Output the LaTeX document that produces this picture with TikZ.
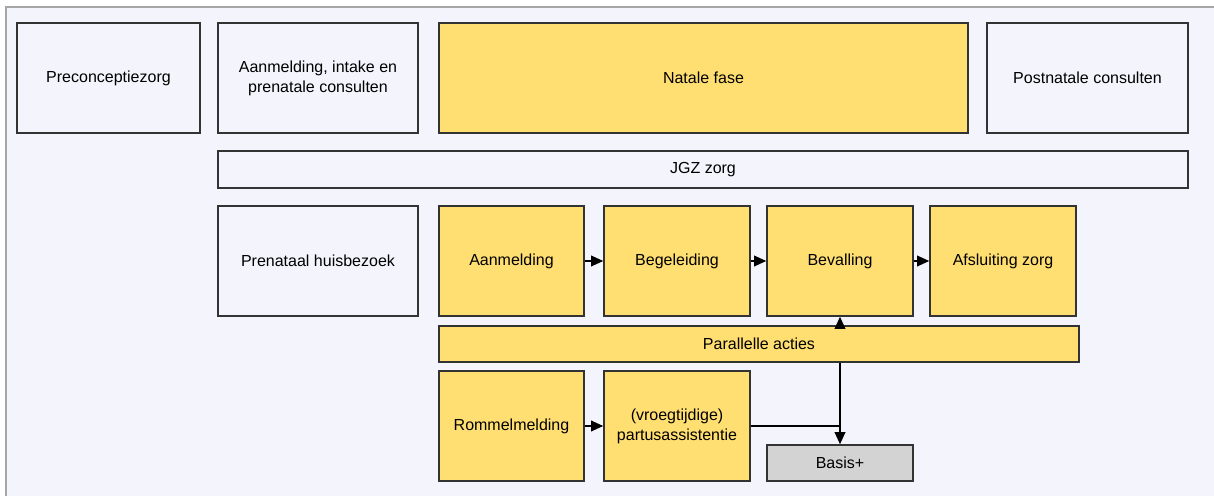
\documentclass[tikz,border=0pt]{standalone}
\usepackage{fontspec}
\setmainfont{Liberation Sans}
\usepackage{tikz}
\usetikzlibrary{arrows.meta}

\definecolor{achtergrond}{HTML}{F4F4FC}
\definecolor{geel}{HTML}{FFDF71}
\definecolor{grijs}{HTML}{D3D3D3}
\definecolor{rand}{HTML}{333333}

\begin{document}
\begin{tikzpicture}[
  x=0.75pt, y=-0.75pt,
  every node/.style={draw=rand, line width=1.2pt, fill=achtergrond,
                     inner sep=0pt, align=center,
                     font=\fontsize{12}{15}\selectfont},
  fase/.style={fill=geel},
  extra/.style={fill=grijs},
  pijl/.style={draw=black, line width=1pt, -{Triangle[length=9pt,width=8pt]}},
]
\useasboundingbox (0,0) rectangle (1214,496);
\fill[achtergrond] (6,7) rectangle (1214,496);
\draw[gray!70, line width=1pt] (6,496) -- (6,7) -- (1214,7);

% bovenste rij
\node[minimum width=183*0.75pt, minimum height=110*0.75pt] (pre) at (108.5,78) {Preconceptiezorg};
\node[minimum width=200*0.75pt, minimum height=110*0.75pt] (intake) at (318,78) {Aanmelding, intake en\\prenatale consulten};
\node[fase, minimum width=529*0.75pt, minimum height=110*0.75pt] (natal) at (703.5,78) {Natale fase};
\node[minimum width=201*0.75pt, minimum height=110*0.75pt] (post) at (1087.5,78) {Postnatale consulten};
\node[minimum width=970*0.75pt, minimum height=37*0.75pt] (jgz) at (703,169.5) {JGZ zorg};

% middelste rij
\node[minimum width=200*0.75pt, minimum height=110*0.75pt] (huis) at (318,261) {Prenataal huisbezoek};
\node[fase, minimum width=145*0.75pt, minimum height=110*0.75pt] (aanm) at (511.5,261) {Aanmelding};
\node[fase, minimum width=146*0.75pt, minimum height=110*0.75pt] (beg) at (677,261) {Begeleiding};
\node[fase, minimum width=146*0.75pt, minimum height=110*0.75pt] (bev) at (840,261) {Bevalling};
\node[fase, minimum width=146*0.75pt, minimum height=110*0.75pt] (afs) at (1003,261) {Afsluiting zorg};
\node[fase, minimum width=640*0.75pt, minimum height=36*0.75pt] (par) at (759,344) {Parallelle acties};

% onderste rij
\node[fase, minimum width=145*0.75pt, minimum height=110*0.75pt] (rom) at (511.5,426) {Rommelmelding};
\node[fase, minimum width=146*0.75pt, minimum height=110*0.75pt] (partus) at (677,426) {(vroegtijdige)\\partusassistentie};
\node[extra, minimum width=146*0.75pt, minimum height=36*0.75pt] (basis) at (840,463) {Basis+};

\coordinate (knik) at (partus.east -| basis.north);

\draw[pijl] (aanm) -- (beg);
\draw[pijl] (beg) -- (bev);
\draw[pijl] (bev) -- (afs);
\draw[pijl] (rom) -- (partus);
\draw[pijl] (par.north -| bev.south) -- (bev.south);
\draw[pijl] (par.south -| basis.north) -- (basis.north);
\draw[draw=black, line width=1pt] (partus.east) -- (knik);
\end{tikzpicture}
\end{document}
